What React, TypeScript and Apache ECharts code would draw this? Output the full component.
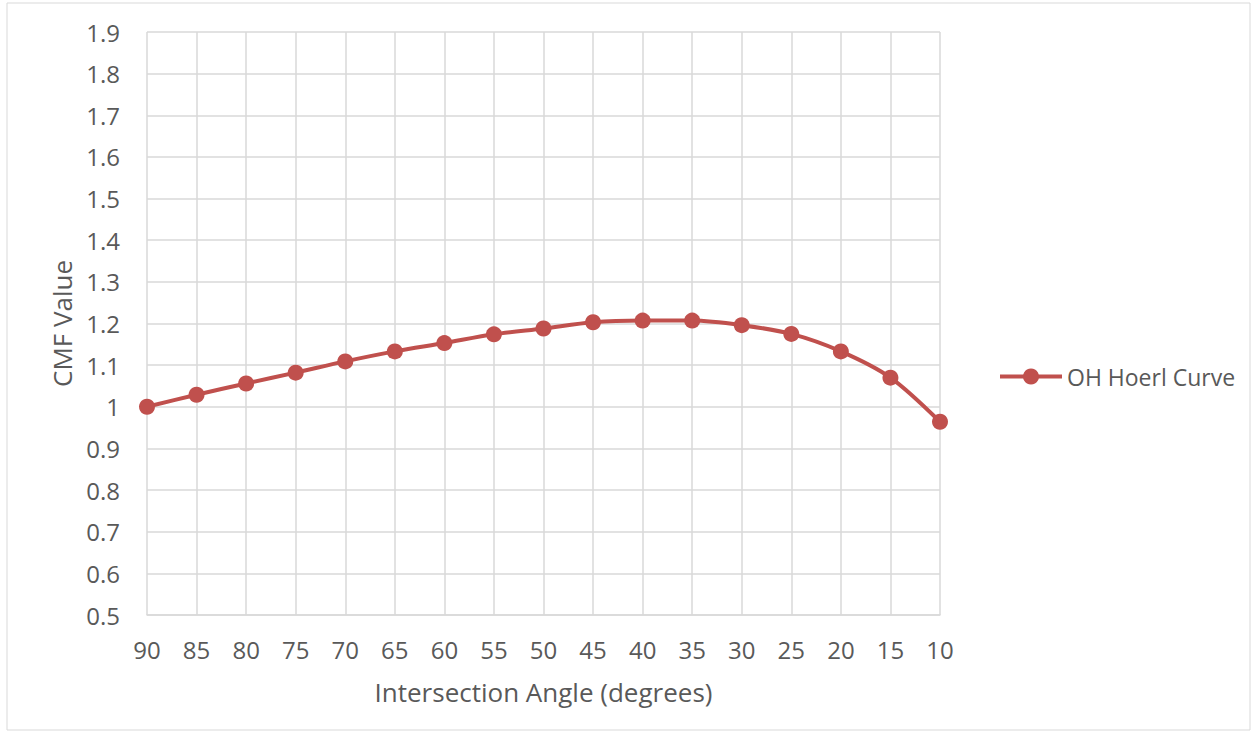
import React, { useEffect, useRef } from "react";
import * as echarts from "echarts";

const angles = ["90", "85", "80", "75", "70", "65", "60", "55", "50", "45", "40", "35", "30", "25", "20", "15", "10"];
const cmfValues = [1.0, 1.029, 1.056, 1.082, 1.109, 1.133, 1.153, 1.174, 1.188, 1.203, 1.207, 1.207, 1.196, 1.175, 1.133, 1.07, 0.964];
const seriesName = "OH Hoerl Curve";
const xTitle = "Intersection Angle (degrees)";
const yTitle = "CMF Value";

export default function App() {
  const ref = useRef<HTMLDivElement>(null);
  useEffect(() => {
    const chart = echarts.init(ref.current!, null, { renderer: "svg" });
    const font = "'Open Sans', 'Noto Sans', sans-serif";
    const textColor = "#595959";
    chart.setOption({
      animation: false,
      backgroundColor: "#ffffff",
      textStyle: { fontFamily: font },
      graphic: [
        {
          type: "rect",
          shape: { x: 7, y: 3, width: 1243, height: 727 },
          style: { fill: "none", stroke: "#D9D9D9", lineWidth: 1 },
          silent: true,
        },
      ],
      grid: { left: 147, top: 32, right: 315, bottom: 120, containLabel: false },
      legend: {
        data: [seriesName],
        left: 993,
        top: 360,
        orient: "vertical",
        itemWidth: 62,
        itemHeight: 20,
        lineStyle: { width: 4, color: "#C0504D" },
        textStyle: { color: textColor, fontSize: 23, fontFamily: font },
      },
      xAxis: {
        type: "category",
        data: angles,
        boundaryGap: false,
        name: xTitle,
        nameLocation: "middle",
        nameGap: 64,
        nameTextStyle: { color: textColor, fontSize: 26, fontFamily: font },
        axisLine: { show: true, lineStyle: { color: "#D9D9D9", width: 1.5 } },
        axisTick: { show: false },
        axisLabel: { color: textColor, fontSize: 24, margin: 22, fontFamily: font },
        splitLine: { show: true, lineStyle: { color: "#D9D9D9", width: 1.5 } },
      },
      yAxis: {
        type: "value",
        min: 0.5,
        max: 1.9,
        interval: 0.1,
        name: yTitle,
        nameLocation: "middle",
        nameGap: 72,
        nameTextStyle: { color: textColor, fontSize: 26, fontFamily: font },
        axisLine: { show: false },
        axisTick: { show: false },
        axisLabel: {
          color: textColor,
          fontSize: 24,
          margin: 27,
          fontFamily: font,
          formatter: (v: number) => String(Math.round(v * 10) / 10),
        },
        splitLine: { show: true, lineStyle: { color: "#D9D9D9", width: 1.5 } },
      },
      series: [
        {
          name: seriesName,
          type: "line",
          data: cmfValues,
          smooth: 0.3,
          symbol: "circle",
          symbolSize: 16,
          lineStyle: { color: "#C0504D", width: 4 },
          itemStyle: { color: "#C0504D" },
        },
      ],
    });
    return () => chart.dispose();
  }, []);
  return (
    <div
      ref={ref}
      style={{ position: "fixed", left: 0, top: 0, width: 1255, height: 735 }}
    />
  );
}
